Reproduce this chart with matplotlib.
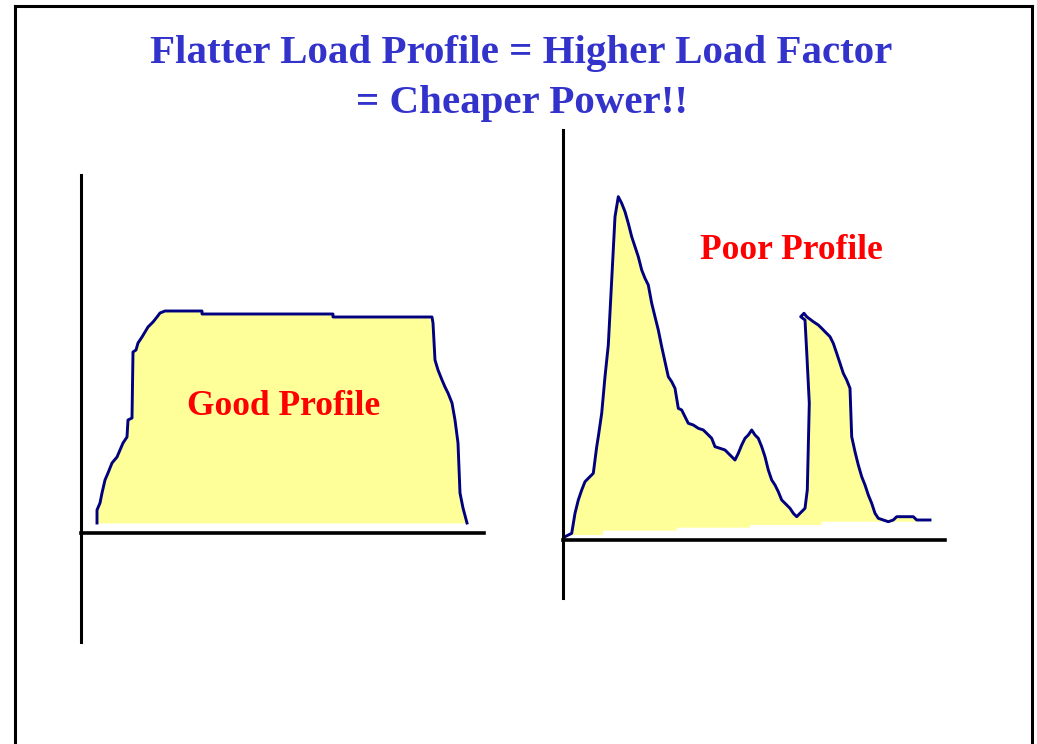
import numpy as np
import matplotlib
matplotlib.use("Agg")
import matplotlib.pyplot as plt

# title and labels
title_lines = ["Flatter Load Profile = Higher Load Factor", "= Cheaper Power!!"]
good_label = "Good Profile"
poor_label = "Poor Profile"

# good (flat) profile: time index vs load
good_t = [16, 16, 19, 21, 24, 27, 31, 36, 39, 42, 46, 47, 51, 52, 55, 57, 61, 64, 67, 72,
          76, 79, 84, 121, 121, 252, 252, 351, 352, 354, 357, 361, 364, 367, 371, 374,
          377, 379, 382, 386]
good_load = [10, 23, 30, 40, 53, 60, 70, 76, 83, 90, 96, 113, 115, 181, 183, 190, 196, 201,
             206, 211, 216, 220, 222, 222, 219, 219, 216, 216, 210, 173, 163, 153, 146, 140,
             130, 113, 90, 40, 25, 10]

# poor (peaky) profile
poor_t = [2, 8.7, 12, 15.3, 18.7, 22, 25.3, 30.3, 33.7, 35.3, 38.7, 42, 45.3, 48.7, 52,
          55.3, 58.7, 62, 65.3, 68.7, 72, 75.3, 78.7, 82, 85.3, 88.7, 92, 95.3, 98.7, 102,
          105.3, 108.7, 112, 115.3, 118.7, 122, 125.3, 130.3, 135.3, 140.3, 143.7, 148.7,
          152, 157, 162, 167, 172, 175.3, 178.7, 182, 185.3, 188.7, 192, 195.3, 198.7, 202,
          205.3, 208.7, 212, 215.3, 218.7, 222, 227, 230.3, 233.7, 237, 242, 244.3, 246.3,
          243.7, 242, 237.7, 241, 243.7, 250.3, 255.3, 258.7, 262, 267, 270.3, 273.7, 277,
          280.3, 283.7, 287, 288.7, 292, 295.3, 298.7, 302, 305.3, 308.7, 312, 315.3, 320.3,
          325.3, 330.3, 333.7, 350.3, 353.7, 367]
poor_load = [3.3, 6.7, 26.7, 40, 50, 58.3, 61.7, 66.7, 93.3, 103.3, 126.7, 163.3, 195, 260,
             323.3, 343.3, 336.7, 328.3, 316.7, 303.3, 293.3, 283.3, 270, 261.7, 255, 236.7,
             223.3, 210, 193.3, 178.3, 163.3, 158.3, 151.7, 131.7, 130, 123.3, 116.7, 115,
             111.7, 110, 106.7, 101.7, 93.3, 91.7, 90, 85, 80, 86.7, 95, 101.7, 105, 110, 105,
             101.7, 93.3, 83.3, 70, 60, 55, 48.3, 40, 36.7, 31.7, 26.7, 23.3, 26.7, 31.7, 50,
             136.7, 188.3, 220, 223.3, 226.7, 223.3, 218.3, 215, 211.7, 208.3, 203.3, 196.7,
             186.7, 176.7, 166.7, 160, 151.7, 103.3, 88.3, 75, 63.3, 55, 45, 36.7, 26.7, 21.7,
             20, 18.3, 20, 23.3, 23.3, 20, 20]
# lower edge of the shaded area under the poor profile
poor_base_t = [12, 40, 40, 113.7, 113.7, 187, 187, 258.7, 258.7, 352]
poor_base_load = [5, 5, 9.3, 9.3, 12.3, 12.3, 15, 15, 18.3, 18.3]

W, H = 1037, 744
fig = plt.figure(figsize=(W / 100, H / 100), dpi=100)
fig.patch.set_facecolor("white")

line_c = "#000080"
fill_c = "#ffff99"
title_c = "#3333cc"

# outer frame (open at the bottom)
frame = fig.add_axes([15 / W, -0.05, (1032 - 15) / W, 1.05 - 6 / H])
frame.set_xticks([])
frame.set_yticks([])
frame.patch.set_alpha(0)
frame.spines["bottom"].set_visible(False)
for s in ["left", "right", "top"]:
    frame.spines[s].set_linewidth(2.2)


def make_axes(x0, x1, ytop, ybot, yzero, xmax):
    ax = fig.add_axes([x0 / W, 1 - ybot / H, (x1 - x0) / W, (ybot - ytop) / H])
    ax.set_xlim(0, xmax)
    ax.set_ylim(yzero - ybot, yzero - ytop)
    ax.patch.set_alpha(0)
    ax.spines["top"].set_visible(False)
    ax.spines["right"].set_visible(False)
    ax.spines["bottom"].set_position(("data", 0))
    ax.spines["left"].set_linewidth(2.2)
    ax.spines["bottom"].set_linewidth(2.6)
    ax.set_xticks([])
    ax.set_yticks([])
    return ax


# left chart
ax1 = make_axes(81, 484, 175, 642, 533, 403)
ax1.fill_between(good_t, good_load, 10, color=fill_c, lw=0)
ax1.plot(good_t, good_load, color=line_c, lw=2.1)
ax1.text(0.503, 0.505, good_label, transform=ax1.transAxes, ha="center", va="center",
         color="red", fontsize=25.5, fontweight="bold", family="Liberation Serif")

# right chart
ax2 = make_axes(563, 945, 130, 598, 540, 382)
ax2.fill(np.concatenate([poor_t, poor_base_t[::-1]]),
         np.concatenate([poor_load, poor_base_load[::-1]]), color=fill_c, lw=0)
ax2.plot(poor_t, poor_load, color=line_c, lw=2.1)
ax2.text(0.598, 0.742, poor_label, transform=ax2.transAxes, ha="center", va="center",
         color="red", fontsize=25.5, fontweight="bold", family="Liberation Serif")

# title
fig.text(0.503, 1 - 53 / H, title_lines[0], ha="center", va="center", color=title_c,
         fontsize=29.5, fontweight="bold", family="Liberation Serif")
fig.text(0.503, 1 - 103 / H, title_lines[1], ha="center", va="center", color=title_c,
         fontsize=29.5, fontweight="bold", family="Liberation Serif")

fig.savefig("out.png", dpi=100, facecolor="white")
